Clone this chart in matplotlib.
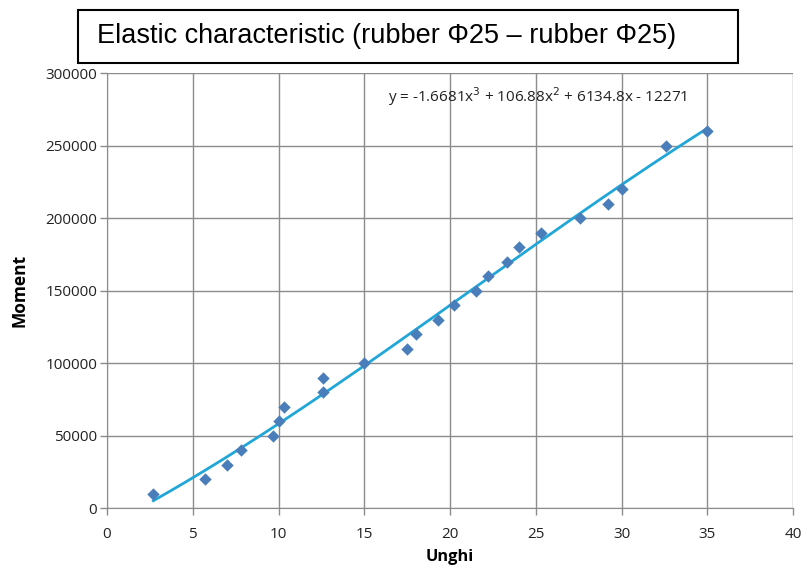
import matplotlib
matplotlib.use('Agg')
import matplotlib.pyplot as plt
from matplotlib.patches import Rectangle
import numpy as np

# measured points (angle vs moment)
unghi = [2.7, 5.7, 7.0, 7.8, 9.7, 10.0, 10.3, 12.6, 12.6, 15.0, 17.5, 18.0,
         19.3, 20.2, 21.5, 22.2, 23.3, 24.0, 25.3, 27.6, 29.2, 30.0, 32.6, 35.0]
moment = [10000, 20000, 30000, 40000, 50000, 60000, 70000, 80000, 90000, 100000,
          110000, 120000, 130000, 140000, 150000, 160000, 170000, 180000,
          190000, 200000, 210000, 220000, 250000, 260000]

# trendline coefficients as shown on the chart
coef = [-1.6681, 106.88, 6134.8, -12271]

xticks = [0, 5, 10, 15, 20, 25, 30, 35, 40]
yticks = [0, 50000, 100000, 150000, 200000, 250000, 300000]

fig = plt.figure(figsize=(8.06, 5.69), dpi=100)
ax = fig.add_axes([0.1328, 0.1072, 0.8512, 0.7645])

xs = np.linspace(min(unghi), max(unghi), 200)
ax.plot(xs, np.polyval(coef, xs), color='#21a6d8', lw=2, zorder=2)
ax.scatter(unghi, moment, marker='D', s=40, color='#4a7ebb', zorder=3, linewidths=0)

ax.set_xlim(0, 40)
ax.set_ylim(0, 300000)
ax.set_xticks(xticks)
ax.set_yticks(yticks)
ax.grid(True, color='#8c8c8c', lw=1)
ax.set_axisbelow(True)
for s in ax.spines.values():
    s.set_visible(False)
ax.spines['left'].set_visible(True)
ax.spines['bottom'].set_visible(True)
ax.spines['left'].set_color('#8c8c8c')
ax.spines['bottom'].set_color('#8c8c8c')
ax.tick_params(axis='both', colors='#8c8c8c', labelcolor='#222222',
               labelsize=11, length=5, width=1)
for lab in ax.get_xticklabels() + ax.get_yticklabels():
    lab.set_family('Open Sans')
ax.tick_params(axis='x', pad=9)
ax.tick_params(axis='y', pad=2)

ax.set_xlabel('Unghi', fontsize=11.8, fontweight='bold', family='Open Sans', labelpad=5)
ax.set_ylabel('Moment', fontsize=12.5, fontweight='bold', family='Open Sans', labelpad=12)

ax.text(16.4, 283500, 'y = -1.6681x$^3$ + 106.88x$^2$ + 6134.8x - 12271',
        fontsize=11, family='Open Sans', color='#222222', va='center')

# title box
fig.patches.append(Rectangle((0.0968, 0.8893), 0.819, 0.0931, transform=fig.transFigure,
                             facecolor='white', edgecolor='black', lw=1.5))
fig.text(0.120, 0.9367, 'Elastic characteristic (rubber Φ25 – rubber Φ25)',
         fontsize=19.5, family='Liberation Sans', va='center', ha='left')

fig.savefig('out.png', dpi=100)
